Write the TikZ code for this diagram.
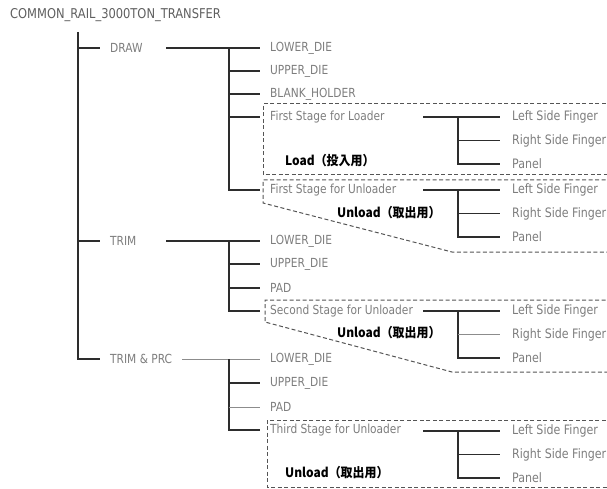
\documentclass[tikz,border=0pt]{standalone}
\usepackage{fontspec}
\setmainfont{DejaVu Sans}[FakeStretch=0.85]
\newfontfamily\cjk{Noto Sans CJK JP}[FakeStretch=0.92]
\usetikzlibrary{positioning}
\definecolor{txtgray}{RGB}{125,125,125}
\definecolor{titlegray}{RGB}{95,95,95}
\definecolor{linedark}{RGB}{45,45,45}
\definecolor{linelight}{RGB}{140,140,140}
\definecolor{dashgray}{RGB}{85,85,85}

\begin{document}
\begin{tikzpicture}[x=1pt, y=-1pt,
    part/.style={anchor=west, inner xsep=10pt, inner ysep=1pt, text=txtgray,
        font=\fontsize{12.5}{14}\selectfont},
    grp/.style={part, text width=46pt, align=left},
    finger/.style={part, inner xsep=12pt, font=\fontsize{13}{15}\selectfont},
    tree/.style={draw=linedark, line width=1.6pt},
    faint/.style={draw=linelight, line width=0.8pt},
    stagebox/.style={draw=dashgray, line width=1pt, dash pattern=on 4pt off 2.5pt},
    tag/.style={anchor=west, inner sep=0pt, font=\cjk\bfseries\fontsize{13}{15}\selectfont}
]
    \useasboundingbox (0,0) rectangle (607,489);
    \node[anchor=west, inner sep=0pt, text=titlegray, font=\fontsize{13.5}{15}\selectfont]
        (title) at (10,15) {COMMON\_RAIL\_3000TON\_TRANSFER};

    % first level
    \coordinate (spine) at (78,32);
    \node[grp] (grpdraw) at (100,48) {DRAW};
    \node[grp] (grptrim) at (100,241) {TRIM};
    \node[part] (grpprc) at (100,359) {TRIM \& PRC};
    \draw[tree] (spine) |- (grpprc.west);
    \foreach \n in {grpdraw,grptrim}
        \draw[tree] (spine |- \n.west) -- (\n.west);

    % dashed stage boxes
    \draw[stagebox] (612,104) -- (263,104) -- (263,175) -- (612,175);
    \draw[stagebox] (612,180) -- (263,180) -- (263,203) -- (452,252) -- (612,252);
    \draw[stagebox] (612,300) -- (265,300) -- (265,322) -- (452,372) -- (612,372);
    \draw[stagebox] (612,420) -- (267,420) -- (267,487) -- (612,487);

    % DRAW
    \node[part] (dlow) at (260,48) {LOWER\_DIE};
    \node[part] (dup) at (260,71) {UPPER\_DIE};
    \node[part] (dblank) at (260,94) {BLANK\_HOLDER};
    \node[part] (dload) at (260,117) {First Stage for Loader};
    \node[part] (dunload) at (260,190) {First Stage for Unloader};
    \coordinate (dfork) at (229,48);
    \draw[tree] (grpdraw.east) -- (dlow.west);
    \draw[tree] (dfork) |- (dunload.west);
    \foreach \n in {dup,dblank,dload}
        \draw[tree] (dfork |- \n.west) -- (\n.west);

    % TRIM
    \node[part] (tlow) at (260,241) {LOWER\_DIE};
    \node[part] (tup) at (260,264) {UPPER\_DIE};
    \node[part] (tpad) at (260,288) {PAD};
    \node[part] (tunload) at (260,311) {Second Stage for Unloader};
    \coordinate (tfork) at (229,241);
    \draw[tree] (grptrim.east) -- (tlow.west);
    \draw[tree] (tfork) |- (tunload.west);
    \foreach \n in {tup,tpad}
        \draw[tree] (tfork |- \n.west) -- (\n.west);

    % TRIM & PRC
    \node[part] (plow) at (260,359) {LOWER\_DIE};
    \node[part] (pup) at (260,383) {UPPER\_DIE};
    \node[part] (ppad) at (260,407) {PAD};
    \node[part] (punload) at (260,430) {Third Stage for Unloader};
    \coordinate (pfork) at (229,359);
    \draw[faint] (grpprc.east) -- (plow.west);
    \draw[tree] (pfork) |- (punload.west);
    \draw[tree] (pfork |- pup.west) -- (pup.west);
    \draw[faint] (pfork |- ppad.west) -- (ppad.west);

    % fingers of each stage
    \foreach \s/\y/\rs in {a/117/tree, b/190/tree, c/311/faint, d/431/tree} {
        \node[finger] (\s left) at (500,\y) {Left Side Finger};
        \node[finger] (\s right) at (500,\y+23.5) {Right Side Finger};
        \node[finger] (\s panel) at (500,\y+47) {Panel};
        \coordinate (\s start) at (423,\y);
        \coordinate (\s fork) at (458,\y);
        \draw[tree] (\s start) -- (\s left.west);
        \draw[tree] (\s fork) |- (\s panel.west);
        \draw[\rs] (\s fork |- \s right.west) -- (\s right.west);
    }

    \node[tag] (loadtag) at (285,161) {Load（投入用）};
    \node[tag] (unloadone) at (337,213) {Unload（取出用）};
    \node[tag] (unloadtwo) at (337,333) {Unload（取出用）};
    \node[tag] (unloadthree) at (285,473) {Unload（取出用）};
\end{tikzpicture}
\end{document}
